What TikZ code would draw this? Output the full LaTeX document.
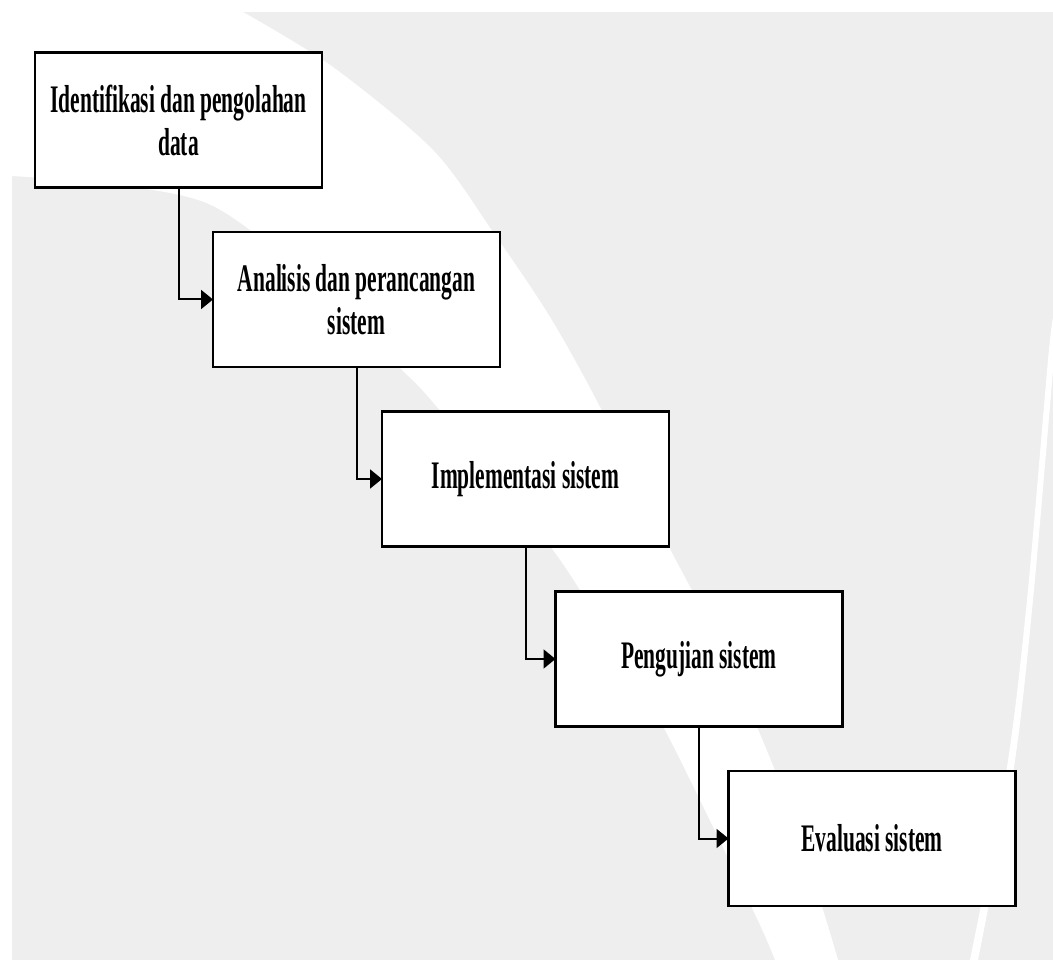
\documentclass[tikz,border=0pt]{standalone}
\usepackage{fontspec}
\newfontfamily\boxfont{Liberation Serif}[FakeStretch=0.55]
\usetikzlibrary{arrows.meta}
\definecolor{pagegray}{RGB}{238,238,238}
\begin{document}
\begin{tikzpicture}[x=1pt,y=-1pt,
  stage/.style={draw=black, line width=2.4pt, fill=white,
    minimum width=287pt, minimum height=135pt, inner sep=0pt, outer sep=0pt,
    align=center, font=\boxfont\bfseries\fontsize{39}{43}\selectfont},
  flow/.style={draw=black, line width=2pt, -{Triangle[length=12pt,width=19pt]}}]
\useasboundingbox (0,0) rectangle (1053,960);
% page background with the light swoosh
\fill[white] (0,0) rectangle (1053,960);
\fill[pagegray] (12,12) rectangle (1053,960);
\fill[white] (12,12)
  -- plot[smooth] coordinates {(243,12) (333,67) (433,150) (493,232) (550,317)
       (600,407) (667,543) (710,625) (757,727) (790,810) (823,910) (838,960)}
  -- plot[smooth] coordinates {(775,960) (753,910) (665,730) (610,640) (553,550)
       (437,407) (397,365) (305,275) (211,205) (110,184) (12,176)}
  -- cycle;
\fill[white]
  plot[smooth] coordinates {(1053,318) (1048,360) (1027,600) (1007,767) (970,960)}
  -- plot[smooth] coordinates {(978,960) (1014,767) (1033,600) (1053,370)}
  -- cycle;
% process stages
\node[stage] (s1) at (178.5,120)  {Identifikasi dan pengolahan\\data};
\node[stage] (s2) at (356.5,299.5) {Analisis dan perancangan\\sistem};
\node[stage] (s3) at (525.5,479)  {Implementasi sistem};
\node[stage] (s4) at (699,659)    {Pengujian sistem};
\node[stage] (s5) at (872,838.5)  {Evaluasi sistem};
% step connectors
\draw[flow] (s1.south) |- (s2.west);
\draw[flow] (s2.south) |- (s3.west);
\draw[flow] (s3.south) |- (s4.west);
\draw[flow] (s4.south) |- (s5.west);
\end{tikzpicture}
\end{document}
